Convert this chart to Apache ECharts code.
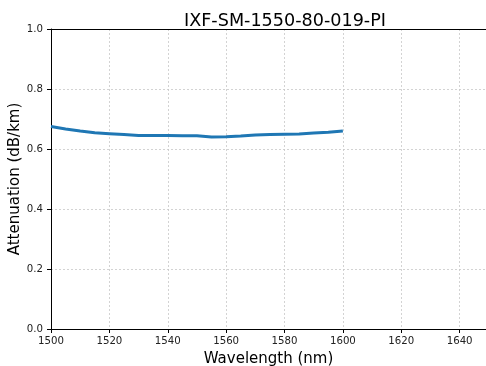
<!DOCTYPE html>
<html>
<head>
<meta charset="utf-8">
<script src="https://cdn.jsdelivr.net/npm/echarts@6/dist/echarts.min.js"></script>
<style>html,body{margin:0;padding:0;background:#fff}#c{width:486px;height:366px}</style>
</head>
<body>
<div id="c"></div>
<script>
const wavelengths = [1500,1505,1510,1515,1520,1525,1530,1535,1540,1545,1550,1555,1560,1565,1570,1575,1580,1585,1590,1595,1600];
const attenuation = [0.675,0.667,0.660,0.654,0.651,0.648,0.645,0.645,0.645,0.644,0.644,0.640,0.641,0.643,0.647,0.648,0.649,0.650,0.653,0.656,0.660];
const titleText = 'IXF-SM-1550-80-019-PI';
const xName = 'Wavelength (nm)';
const yName = 'Attenuation (dB/km)';

const chart = echarts.init(document.getElementById('c'), null, {renderer:'canvas'});
const font = 'DejaVu Sans';
const split = {show:true,lineStyle:{color:'#c8c8c8',type:[2,2],width:0.8}};
chart.setOption({
  animation:false,
  title:{text:titleText,left:179,top:7,textStyle:{fontFamily:font,fontSize:17.6,fontWeight:'normal',color:'#000'}},
  grid:{left:51,right:-32,top:29,bottom:37,outerBoundsMode:'none',containLabel:false},
  xAxis:[{type:'value',min:1500,max:1660,interval:20,
    name:xName,nameLocation:'middle',nameGap:23,nameMoveOverlap:false,nameTextStyle:{fontFamily:font,fontSize:15,color:'#000',padding:[0,32,0,0]},
    axisLine:{show:true,onZero:false,lineStyle:{color:'#000',width:1}},
    axisTick:{show:true,length:4,lineStyle:{color:'#000'}},
    axisLabel:{fontFamily:font,fontSize:10.2,color:'#222',margin:7,showMaxLabel:false,formatter:v=>String(v)},
    splitLine:split},
    {type:'value',position:'top',min:1500,max:1660,
    axisLine:{show:true,onZero:false,lineStyle:{color:'#000',width:1}},
    axisTick:{show:false},axisLabel:{show:false},splitLine:{show:false}}],
  yAxis:{type:'value',min:0,max:1,interval:0.2,
    name:yName,nameLocation:'middle',nameGap:28,nameMoveOverlap:false,nameTextStyle:{fontFamily:font,fontSize:15,color:'#000'},
    axisLine:{show:true,onZero:false,lineStyle:{color:'#000',width:1}},
    axisTick:{show:true,length:4,lineStyle:{color:'#000'}},
    axisLabel:{fontFamily:font,fontSize:10.2,color:'#222',margin:8,formatter:v=>v.toFixed(1)},
    splitLine:split},
  series:[{type:'line',xAxisIndex:0,data:wavelengths.map((w,i)=>[w,attenuation[i]]),showSymbol:false,smooth:false,
    lineStyle:{color:'#1f77b4',width:3},itemStyle:{color:'#1f77b4'}}]
});
</script>
</body>
</html>
